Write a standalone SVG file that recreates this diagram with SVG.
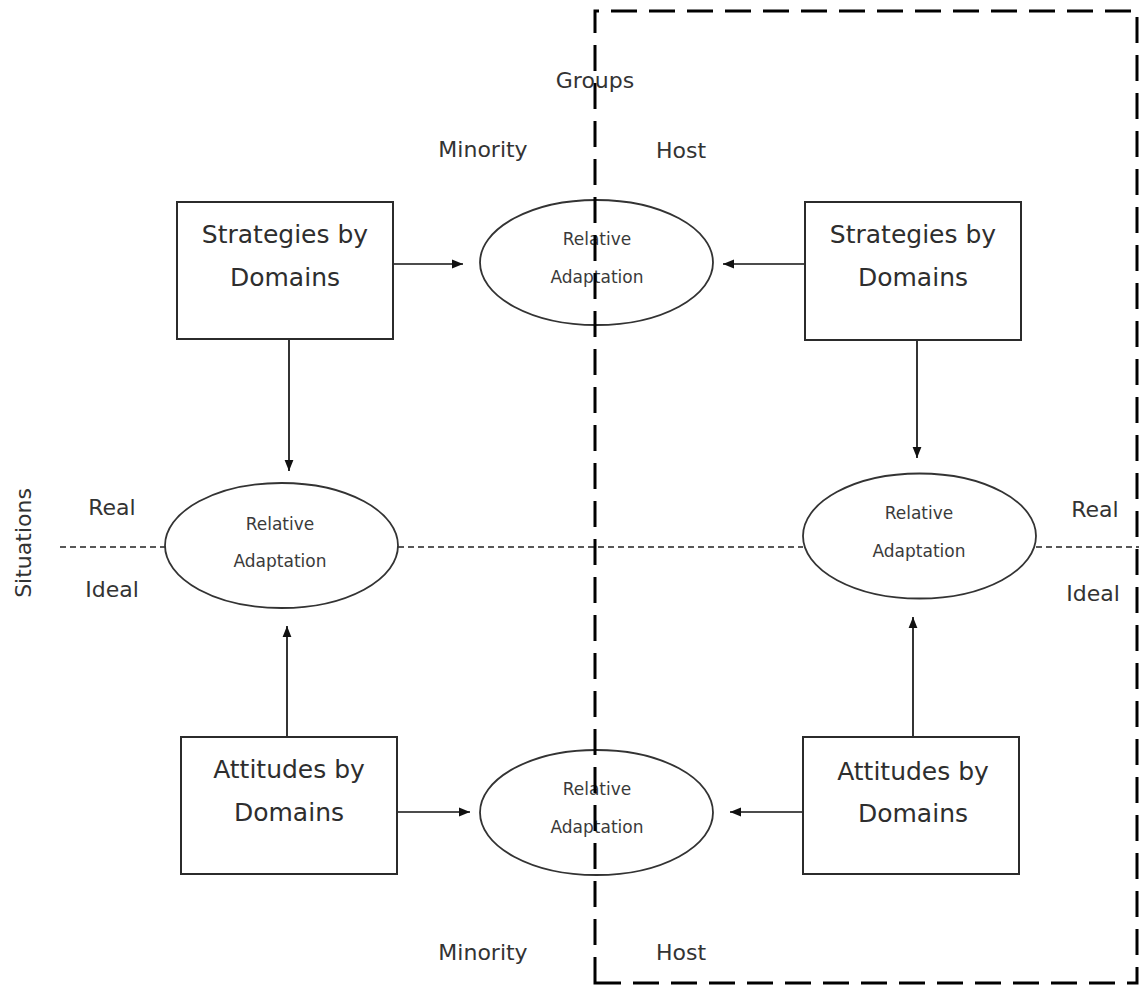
<svg xmlns="http://www.w3.org/2000/svg" width="1139" height="985" viewBox="0 0 1139 985">
  <style>
    .box { fill: #fff; stroke: #2b2b2b; stroke-width: 2; }
    .oval { fill: #fff; stroke: #333; stroke-width: 1.8; }
    .boxtxt { font-family: "DejaVu Sans", sans-serif; font-size: 25px; fill: #2e2e2e; text-anchor: middle; }
    .ovaltxt { font-family: "DejaVu Sans", sans-serif; font-size: 17px; fill: #3a3a3a; text-anchor: middle; }
    .label { font-family: "DejaVu Sans", sans-serif; font-size: 22px; fill: #333; text-anchor: middle; }
    .arrow { stroke: #111; stroke-width: 1.7; fill: none; marker-end: url(#head); }
    .thin-dash { stroke: #222; stroke-width: 1.5; stroke-dasharray: 6 4; fill: none; }
    .frame { stroke: #000; stroke-width: 3; stroke-dasharray: 26 12; fill: none; }
  </style>
  <defs>
    <marker id="head" viewBox="0 0 10 10" refX="10" refY="5" markerWidth="11" markerHeight="11" markerUnits="userSpaceOnUse" orient="auto">
      <path d="M0,1 L10,5 L0,9 Z" fill="#111"/>
    </marker>
  </defs>
  <rect width="1139" height="985" fill="#fff"/>

  <!-- axis labels -->
  <g id="labels">
    <text class="label" x="595" y="88">Groups</text>
    <text class="label" x="483" y="157">Minority</text>
    <text class="label" x="681" y="158">Host</text>
    <text class="label" x="483" y="960">Minority</text>
    <text class="label" x="681" y="960">Host</text>
    <text class="label" x="112" y="515">Real</text>
    <text class="label" x="112" y="597">Ideal</text>
    <text class="label" x="1095" y="517">Real</text>
    <text class="label" x="1093" y="601">Ideal</text>
    <text class="label" transform="translate(31,543) rotate(-90)">Situations</text>
  </g>

  <!-- situation divider -->
  <g id="divider">
    <line class="thin-dash" x1="60" y1="547" x2="165" y2="547"/>
    <line class="thin-dash" x1="398" y1="547" x2="803" y2="547"/>
    <line class="thin-dash" x1="1036" y1="547" x2="1139" y2="547"/>
  </g>

  <!-- connectors -->
  <g id="connectors">
    <line class="arrow" x1="393" y1="264" x2="463" y2="264"/>
    <line class="arrow" x1="805" y1="264" x2="723" y2="264"/>
    <line class="arrow" x1="289" y1="339" x2="289" y2="471"/>
    <line class="arrow" x1="917" y1="340" x2="917" y2="458"/>
    <line class="arrow" x1="287" y1="737" x2="287" y2="626"/>
    <line class="arrow" x1="913" y1="737" x2="913" y2="617"/>
    <line class="arrow" x1="397" y1="812" x2="470" y2="812"/>
    <line class="arrow" x1="803" y1="812" x2="730" y2="812"/>
  </g>

  <!-- nodes -->
  <g id="strategies-minority">
    <rect class="box" x="177" y="202" width="216" height="137"/>
    <text class="boxtxt" x="285" y="243">Strategies by</text>
    <text class="boxtxt" x="285" y="286">Domains</text>
  </g>
  <g id="strategies-host">
    <rect class="box" x="805" y="202" width="216" height="138"/>
    <text class="boxtxt" x="913" y="243">Strategies by</text>
    <text class="boxtxt" x="913" y="286">Domains</text>
  </g>
  <g id="attitudes-minority">
    <rect class="box" x="181" y="737" width="216" height="137"/>
    <text class="boxtxt" x="289" y="778">Attitudes by</text>
    <text class="boxtxt" x="289" y="821">Domains</text>
  </g>
  <g id="attitudes-host">
    <rect class="box" x="803" y="737" width="216" height="137"/>
    <text class="boxtxt" x="913" y="780">Attitudes by</text>
    <text class="boxtxt" x="913" y="822">Domains</text>
  </g>

  <g id="adaptation-strategies">
    <ellipse class="oval" cx="596.5" cy="262.5" rx="116.5" ry="62.5"/>
    <text class="ovaltxt" x="597" y="245">Relative</text>
    <text class="ovaltxt" x="597" y="283">Adaptation</text>
  </g>
  <g id="adaptation-minority">
    <ellipse class="oval" cx="281.5" cy="545.5" rx="116.5" ry="62.5"/>
    <text class="ovaltxt" x="280" y="530">Relative</text>
    <text class="ovaltxt" x="280" y="567">Adaptation</text>
  </g>
  <g id="adaptation-host">
    <ellipse class="oval" cx="919.5" cy="536" rx="116.5" ry="62.5"/>
    <text class="ovaltxt" x="919" y="519">Relative</text>
    <text class="ovaltxt" x="919" y="557">Adaptation</text>
  </g>
  <g id="adaptation-attitudes">
    <ellipse class="oval" cx="596.5" cy="812.5" rx="116.5" ry="62.5"/>
    <text class="ovaltxt" x="597" y="795">Relative</text>
    <text class="ovaltxt" x="597" y="833">Adaptation</text>
  </g>

  <!-- host group frame -->
  <g id="host-frame">
    <path class="frame" d="M595,983 L595,11 L1137,11 L1137,983 Z"/>
  </g>
</svg>
